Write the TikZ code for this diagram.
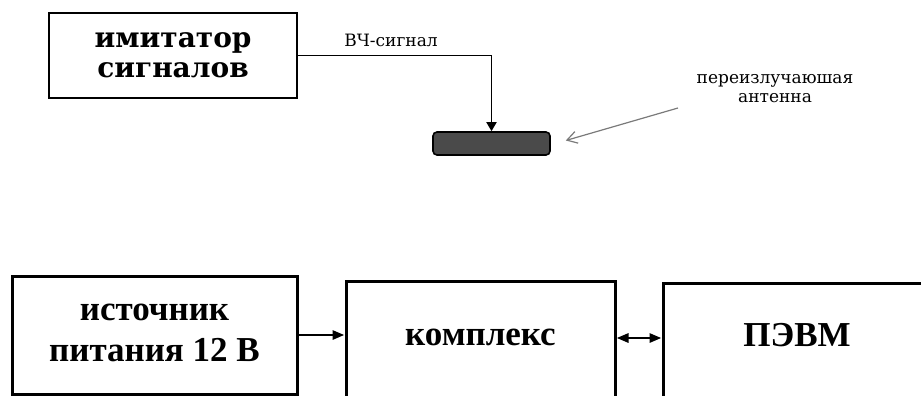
\documentclass[tikz,border=0pt]{standalone}
\usepackage{fontspec}
\setmainfont{Liberation Serif}
\newfontfamily\labelfont{DejaVu Serif}
\usetikzlibrary{arrows.meta, positioning}
\definecolor{antfill}{HTML}{4A4A4A}
\definecolor{pointer}{HTML}{7A7A7A}

\begin{document}
\begin{tikzpicture}[
    x=0.5pt, y=-0.5pt,
    every node/.style={inner sep=0pt},
    frame/.style={draw, line width=1.5pt},
    big/.style={font=\bfseries\fontsize{17.5}{20.5}\selectfont, align=center},
    small/.style={font=\labelfont\fontsize{8.5}{9.5}\selectfont, align=center},
    wire/.style={line width=1.4pt, -{Triangle[length=6pt, width=4.5pt]}},
]
\clip (0,0) rectangle (921,396);

% upper part: imitator and antenna
\node[draw, line width=1.1pt, minimum width=124pt, minimum height=42.5pt,
    align=center, font=\labelfont\bfseries\fontsize{14}{15}\selectfont]
    (gen) at (173,55.5) {имитатор\\сигналов};
\node[draw, line width=0.8pt, fill=antfill, rounded corners=2pt,
    minimum width=58.5pt, minimum height=11.5pt] (ant) at (491.5,143.5) {};
\node[small] (rf) at (391,40) {ВЧ-сигнал};
\node[small] (antlab) at (775,89) {переизлучаюшая\\антенна};

\draw[line width=0.9pt, -{Triangle[length=4.5pt, width=5pt]}]
    (gen.east) -- (gen.east -| ant.north) -- (ant.north);

\coordinate (ptr) at (678,108);
\draw[pointer, line width=0.6pt, -{Straight Barb[length=5pt, width=6pt]}]
    (ptr) -- ([xshift=7.5pt, yshift=1.5pt]ant.east);

% lower part: the chain
\node[frame, minimum width=142.5pt, minimum height=59pt] (src) at (154.5,335) {};
\node[frame, minimum width=134.5pt, minimum height=80pt] (cplx) at (480.5,361) {};
\node[frame, minimum width=148.5pt, minimum height=80pt] (pc) at (811.5,363) {};

\node[big] (srctext) at (154.5,332.5) {источник\\питания 12 В};
\node[big] (cplxtext) at (480.5,337) {комплекс};
\node[big] (pctext) at (797,335) {ПЭВМ};

\draw[wire] (src.east) -- (cplx.west |- src.east);
\draw[wire, {Triangle[length=6pt, width=4.5pt]}-{Triangle[length=6pt, width=4.5pt]}]
    ([yshift=-1.5pt]cplx.east |- pctext) -- ([yshift=-1.5pt]pc.west |- pctext);
\end{tikzpicture}
\end{document}
